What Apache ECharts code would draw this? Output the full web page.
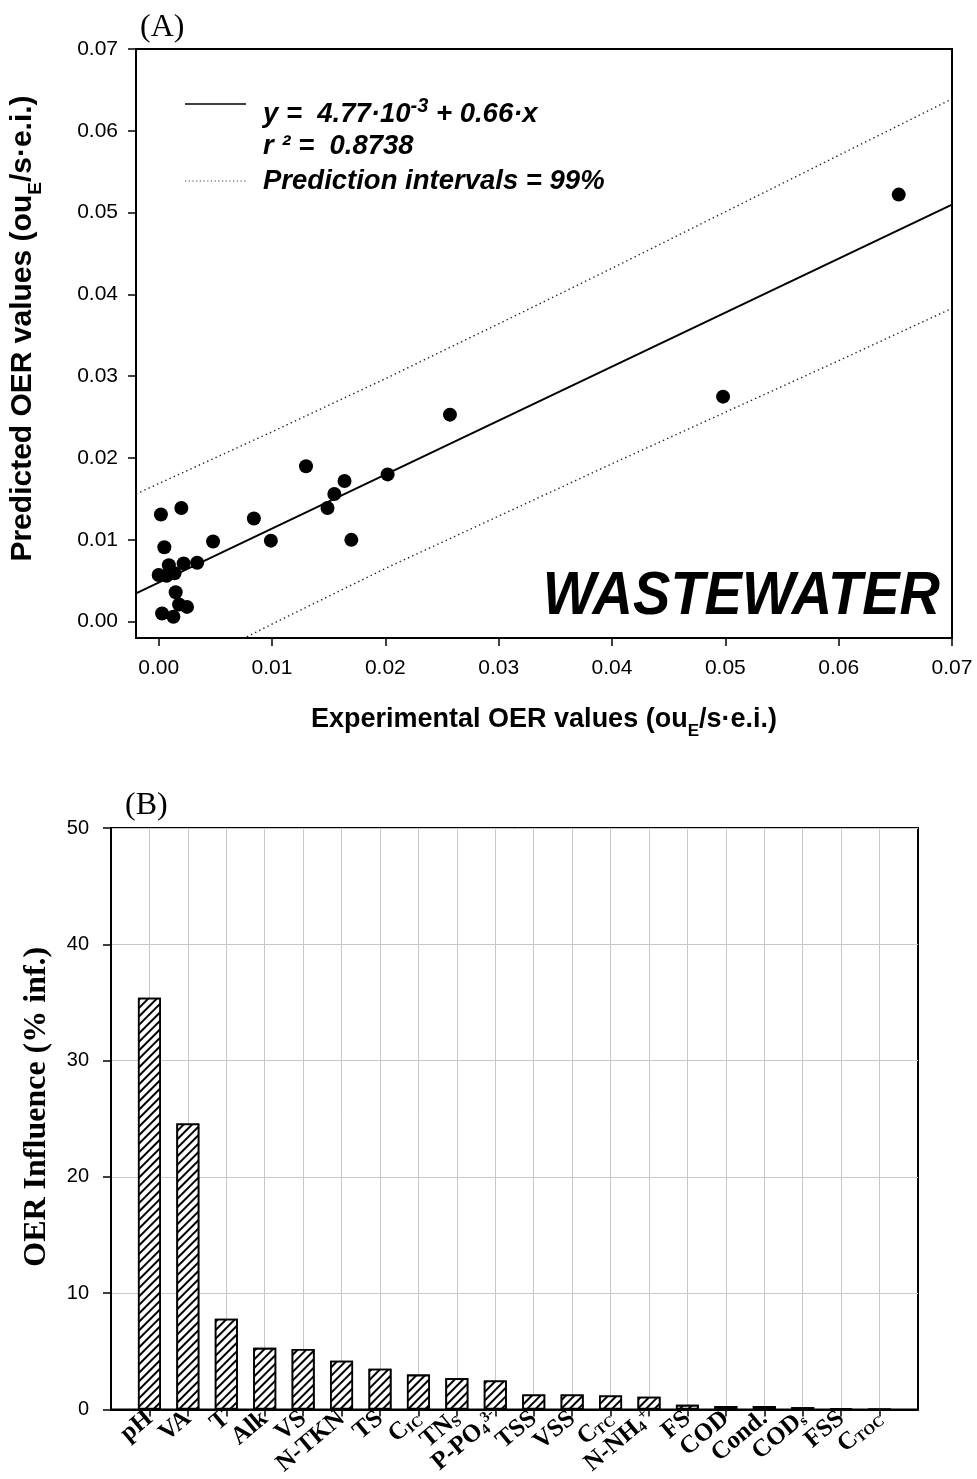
<!DOCTYPE html>
<html>
<head>
<meta charset="utf-8">
<script src="https://cdn.jsdelivr.net/npm/echarts@6/dist/echarts.min.js"></script>
<style>
  html, body { margin: 0; padding: 0; background: #ffffff; }
  #chart { width: 977px; height: 1479px; }
</style>
</head>
<body>
<div id="chart"></div>
<script>
// ---- Panel A: experimental vs predicted OER (ou_E/s·e.i.) ----
const experimental = [0.0653, 0.0498, 0.0257, 0.0202, 0.0130, 0.0164, 0.0155, 0.0149, 0.0170,
  0.0099, 0.0084, 0.0048, 0.0002, 0.0020, 0.0005, 0.0022, 0.0034, 0.0000, 0.0007, 0.0014,
  0.0009, 0.0015, 0.0018, 0.0025, 0.0003, 0.0013];
const predicted = [0.0522, 0.0275, 0.0253, 0.0180, 0.0190, 0.0172, 0.0156, 0.0139, 0.0100,
  0.0099, 0.0126, 0.0098, 0.0131, 0.0139, 0.0091, 0.0071, 0.0072, 0.0057, 0.0056, 0.0059,
  0.0069, 0.0036, 0.0021, 0.0018, 0.0010, 0.0006];

// Linear fit y = a + b·x
const fitIntercept = 4.77e-3;
const fitSlope = 0.66;
const fitRange = [-0.002, 0.07];

// 99 % prediction interval bounds
const bandX = [-0.002, 0.01, 0.02, 0.03, 0.04, 0.05, 0.06, 0.07];
const bandUpper = [0.0156, 0.0232, 0.0297, 0.0364, 0.0432, 0.0501, 0.0570, 0.0639];
const bandLower = [-0.0087, -0.0003, 0.0065, 0.0129, 0.0193, 0.0256, 0.0319, 0.0383];

const axisTicksA = [0, 0.01, 0.02, 0.03, 0.04, 0.05, 0.06, 0.07];

// ---- Panel B: influence of each parameter on OER ----
const parameters = ['pH', 'VA', 'T', 'Alk', 'VS', 'N-TKN', 'TS', 'C_IC', 'TN_S', 'P-PO4_3-',
  'TSS', 'VSS', 'C_TC', 'N-NH4_+', 'FS', 'COD', 'Cond.', 'COD_s', 'FSS', 'C_TOC'];
const parameterLabels = ['pH', 'VA', 'T', 'Alk', 'VS', 'N-TKN', 'TS', 'C{sub|IC}', 'TN{sub|S}',
  'P-PO{sub|4}{sup|3-}', 'TSS', 'VSS', 'C{sub|TC}', 'N-NH{sub|4}{sup|+}', 'FS', 'COD', 'Cond.',
  'COD{sub|s}', 'FSS', 'C{sub|TOC}'];
const influence = [35.4, 24.6, 7.8, 5.3, 5.2, 4.2, 3.5, 3.0, 2.7, 2.5,
  1.3, 1.3, 1.2, 1.1, 0.4, 0.3, 0.3, 0.2, 0.1, 0.02];
const influenceTicks = [0, 10, 20, 30, 40, 50];

const SANS = '"Liberation Sans", Arial, sans-serif';
const SERIF = '"Liberation Serif", "Times New Roman", serif';

const scatterData = experimental.map((x, i) => [x, predicted[i]]);
const fitData = fitRange.map(x => [x, fitIntercept + fitSlope * x]);
const upperData = bandX.map((x, i) => [x, bandUpper[i]]);
const lowerData = bandX.map((x, i) => [x, bandLower[i]]);
const barData = influence.map((v, i) => [i + 1, v]);
// bars sit at 1..n on a 0..n+1 axis; the end slots carry empty labels
const barPositions = parameters.map((p, i) => i + 1);
const barLabelSlots = [0].concat(barPositions, [parameters.length + 1]);

const chart = echarts.init(document.getElementById('chart'), null, { renderer: 'canvas' });

const blackAxisLine = { show: true, onZero: false, lineStyle: { color: '#000', width: 2 } };
const subRich = size => ({ fontFamily: SANS, fontSize: size, fontWeight: 'bold', verticalAlign: 'bottom', padding: [0, 0, -7, 0] });
const textStyle = (font, align) => ({ font, fill: '#000', align, verticalAlign: 'middle', textAlign: align, textVerticalAlign: 'middle' });

chart.setOption({
  animation: false,
  backgroundColor: '#ffffff',
  grid: [
    { left: 134, right: 25, top: 49, height: 589, show: true, borderColor: '#000', borderWidth: 2, containLabel: false },
    { left: 111, right: 59, top: 828, height: 581.5, show: true, borderColor: '#000', borderWidth: 2, containLabel: false }
  ],
  xAxis: [
    {
      gridIndex: 0, type: 'value', min: -0.002, max: 0.07,
      axisLine: blackAxisLine,
      axisTick: { show: true, inside: false, length: 8, customValues: axisTicksA, lineStyle: { color: '#000', width: 1.5 } },
      axisLabel: { customValues: axisTicksA, formatter: v => v.toFixed(2), color: '#000', fontFamily: SANS, fontSize: 21, margin: 20, showMinLabel: true, showMaxLabel: true },
      splitLine: { show: false },
      name: 'Experimental OER values (ou{sub|E}/s·e.i.)',
      nameLocation: 'middle', nameGap: 68,
      nameTextStyle: {
        color: '#000', fontFamily: SANS, fontSize: 27, fontWeight: 'bold',
        rich: { sub: subRich(17) }
      }
    },
    {
      gridIndex: 1, type: 'value', min: 0, max: parameters.length + 1, interval: 1,
      axisLine: blackAxisLine,
      axisTick: { show: true, length: 7, customValues: barPositions, lineStyle: { color: '#000', width: 1.5 } },
      axisLabel: {
        customValues: barLabelSlots,
        formatter: v => parameterLabels[v - 1] || '',
        showMinLabel: true, showMaxLabel: true, hideOverlap: false,
        rotate: 40, margin: 6, color: '#000',
        fontFamily: SERIF, fontSize: 25, fontWeight: 'bold',
        rich: {
          sub: { fontFamily: SERIF, fontSize: 15, fontWeight: 'bold', verticalAlign: 'bottom' },
          sup: { fontFamily: SERIF, fontSize: 15, fontWeight: 'bold', verticalAlign: 'top' }
        }
      },
      splitLine: { show: true, lineStyle: { color: '#c8c8c8', width: 1 } }
    }
  ],
  yAxis: [
    {
      gridIndex: 0, type: 'value', min: -0.002, max: 0.07,
      axisLine: blackAxisLine,
      axisTick: { show: true, length: 8, customValues: axisTicksA, lineStyle: { color: '#000', width: 1.5 } },
      axisLabel: { customValues: axisTicksA, formatter: v => v.toFixed(2), color: '#000', fontFamily: SANS, fontSize: 21, margin: 18, showMinLabel: true, showMaxLabel: true },
      splitLine: { show: false },
      name: 'Predicted OER values (ou{sub|E}/s·e.i.)',
      nameLocation: 'middle', nameGap: 98,
      nameTextStyle: {
        color: '#000', fontFamily: SANS, fontSize: 30, fontWeight: 'bold',
        padding: [0, 0, 0, 30],
        rich: { sub: subRich(19) }
      }
    },
    {
      gridIndex: 1, type: 'value', min: 0, max: 50, interval: 10,
      axisLine: blackAxisLine,
      axisTick: { show: true, length: 8, customValues: influenceTicks, lineStyle: { color: '#000', width: 1.5 } },
      axisLabel: { customValues: influenceTicks, color: '#000', fontFamily: SANS, fontSize: 20, margin: 22, showMinLabel: true, showMaxLabel: true },
      splitLine: { show: true, lineStyle: { color: '#c8c8c8', width: 1 } },
      name: 'OER Influence (% inf.)',
      nameLocation: 'middle', nameGap: 58,
      nameTextStyle: { color: '#000', fontFamily: SERIF, fontSize: 32, fontWeight: 'bold', padding: [0, 0, 0, 24] }
    }
  ],
  series: [
    {
      name: 'upper PI', type: 'line', xAxisIndex: 0, yAxisIndex: 0,
      data: upperData, showSymbol: false, clip: true,
      lineStyle: { color: '#222', width: 1.4, type: [1.4, 3.2] }
    },
    {
      name: 'lower PI', type: 'line', xAxisIndex: 0, yAxisIndex: 0,
      data: lowerData, showSymbol: false, clip: true,
      lineStyle: { color: '#222', width: 1.4, type: [1.4, 3.2] }
    },
    {
      name: 'fit', type: 'line', xAxisIndex: 0, yAxisIndex: 0,
      data: fitData, showSymbol: false, clip: true,
      lineStyle: { color: '#000', width: 2 }
    },
    {
      name: 'OER', type: 'scatter', xAxisIndex: 0, yAxisIndex: 0,
      data: scatterData, symbol: 'circle', symbolSize: 14,
      itemStyle: { color: '#000', opacity: 1 }
    },
    {
      name: 'influence', type: 'bar', xAxisIndex: 1, yAxisIndex: 1,
      data: barData, barWidth: 23,
      itemStyle: {
        color: '#ffffff', borderColor: '#000', borderWidth: 1.8,
        decal: {
          symbol: 'rect', color: '#000', backgroundColor: '#ffffff',
          dashArrayX: [1, 0], dashArrayY: [1.8, 3.6], rotation: -Math.PI / 4
        }
      }
    }
  ],
  graphic: [
    { type: 'text', x: 140, y: 28, style: Object.assign({ text: '(A)' }, textStyle('32px ' + SERIF, 'left')) },
    { type: 'text', x: 125, y: 806, style: Object.assign({ text: '(B)' }, textStyle('32px ' + SERIF, 'left')) },
    { type: 'line', shape: { x1: 185, y1: 104, x2: 246, y2: 104 }, style: { stroke: '#000', lineWidth: 1.5 } },
    { type: 'line', shape: { x1: 185, y1: 181, x2: 246, y2: 181 }, style: { stroke: '#444', lineWidth: 1.2, lineDash: [1.2, 2.5] } },
    {
      type: 'text', x: 263, y: 114,
      style: Object.assign({
        text: '{t|y =  4.77·10}{sup|-3}{t| + 0.66·x}',
        rich: {
          t: { font: 'italic bold 27.5px ' + SANS, fill: '#000' },
          sup: { font: 'italic bold 20px ' + SANS, fill: '#000', verticalAlign: 'top', padding: [0, 0, 16, 0] }
        }
      }, textStyle('italic bold 27.5px ' + SANS, 'left'))
    },
    { type: 'text', x: 263, y: 146, style: Object.assign({ text: 'r ² =  0.8738' }, textStyle('italic bold 27.5px ' + SANS, 'left')) },
    { type: 'text', x: 263, y: 181, style: Object.assign({ text: 'Prediction intervals = 99%' }, textStyle('italic bold 27.5px ' + SANS, 'left')) },
    { type: 'text', x: 940, y: 597, scaleY: 1.1, originX: 0, originY: 0, style: Object.assign({ text: 'WASTEWATER' }, textStyle('italic bold 56px ' + SANS, 'right')) }
  ]
});
</script>
</body>
</html>
